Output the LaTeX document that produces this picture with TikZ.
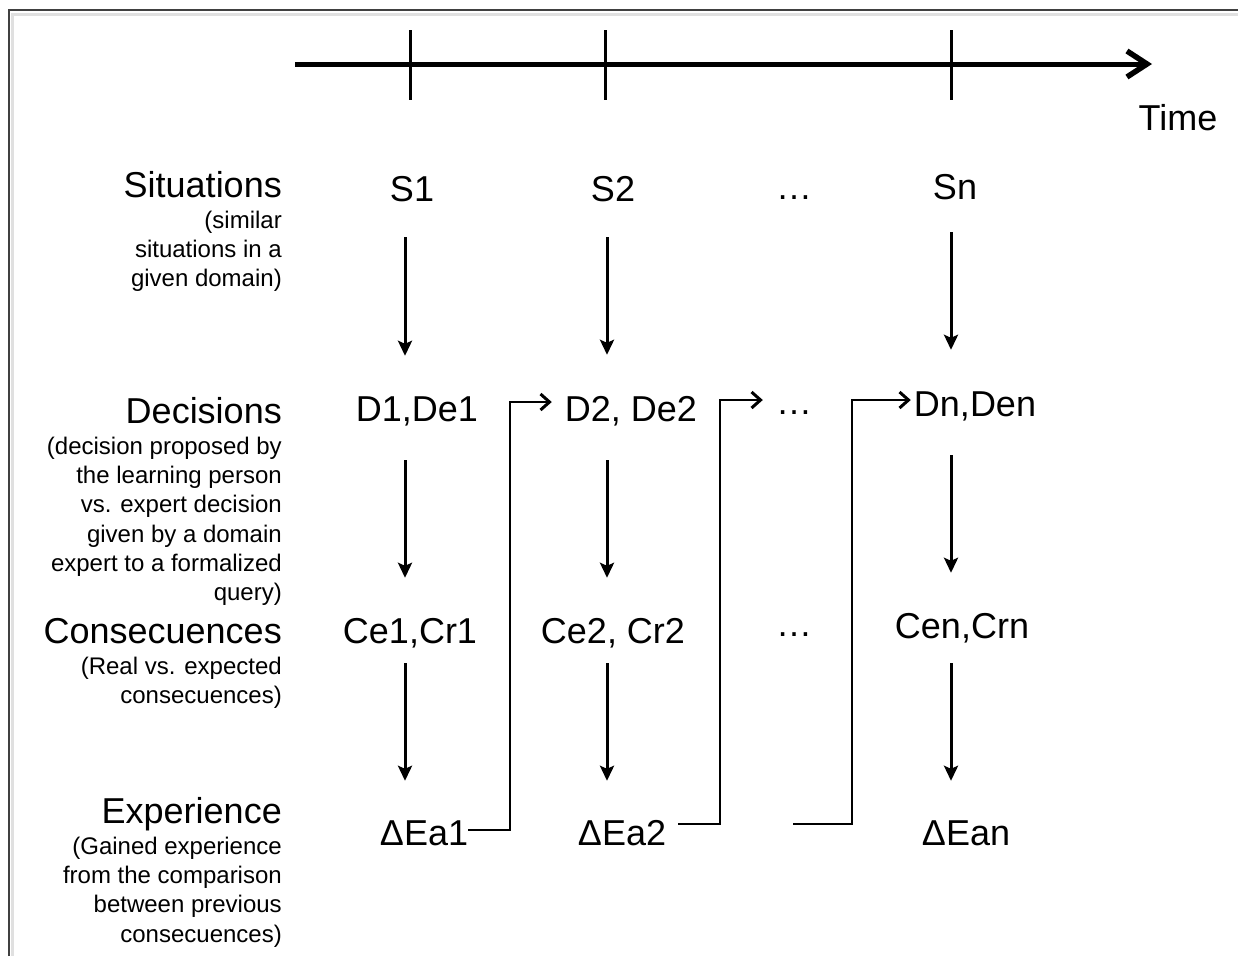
\documentclass[tikz,border=0pt]{standalone}
\usepackage{fontspec}
\setmainfont{Liberation Sans}
\usetikzlibrary{arrows.meta,calc}
\begin{document}
\begin{tikzpicture}[x=1pt,y=-1pt,
  big/.style={font=\fontsize{36}{40}\selectfont, inner sep=0pt},
  col/.style={big, text height=26pt, text depth=8pt, anchor=base},
  title/.style={big, anchor=base east},
  note/.style={font=\fontsize{24}{29.3}\selectfont, inner sep=0pt, align=right, anchor=north east},
  vstep/.style={line width=3pt, -{Stealth[length=15pt,width=14pt,inset=3pt]}},
  fb/.style={line width=1.4pt, -{Straight Barb[length=9pt,width=16pt,line width=3pt]}},
  axis/.style={line width=5pt, -{Straight Barb[length=20pt,width=26pt,line width=5.5pt]}},
  tick/.style={line width=3pt},
  frame/.style={draw=black!75, line width=1.8pt},
  shade/.style={draw=black!12, line width=3pt}
]
\useasboundingbox (0,0) rectangle (1238,956);

% outer frame with a soft shadow
\draw[shade] (12,956) -- (12,14) -- (1238,14);
\draw[frame] (9,956) -- (9,10) -- (1238,10);

% time axis and ticks
\coordinate (t0) at (295,64);
\coordinate (t1) at (1152,64);
\draw[axis] (t0) -- (t1);
\foreach \tx in {410,605,951}
  \draw[tick] (\tx,30) -- (\tx,100);
\node[big, anchor=base] (time) at (1178,130) {Time};

% row titles and their explanations
\node[title] (lsit) at (282,197) {Situations};
\node[note] (nsit) at (282,210.5) {(similar\\situations in a\\given domain)};
\node[title] (ldec) at (282,423) {Decisions};
\node[note] (ndec) at (282,436.5) {(decision proposed by\\the learning person\\vs. expert decision\\given by a domain\\expert to a formalized\\query)};
\node[title] (lcon) at (282,643) {Consecuences};
\node[note] (ncon) at (282,656.5) {(Real vs. expected\\consecuences)};
\node[title] (lexp) at (282,823) {Experience};
\node[note] (nexp) at (282,836.5) {(Gained experience\\from the comparison\\between previous\\consecuences)};

% situations
\node[col] (s1) at (412,201) {S1};
\node[col] (s2) at (613,201) {S2};
\node[col] (sd) at (794,199) {…};
\node[col] (sn) at (955,199) {Sn};
% decisions
\node[col] (d1) at (417,421) {D1,De1};
\node[col] (d2) at (631,421) {D2, De2};
\node[col] (dd) at (794,414) {…};
\node[col] (dn) at (975,416) {Dn,Den};
% consequences
\node[col] (c1) at (410,643) {Ce1,Cr1};
\node[col] (c2) at (613,643) {Ce2, Cr2};
\node[col] (cd) at (794,636) {…};
\node[col] (cn) at (962,638) {Cen,Crn};
% experience
\node[col] (e1) at (424,845) {ΔEa1};
\node[col] (e2) at (622,845) {ΔEa2};
\node[col] (en) at (966,845) {ΔEan};

% columns of the vertical arrows
\coordinate (x1) at (405,0);
\coordinate (x2) at (607,0);
\coordinate (x3) at (951,0);

\draw[vstep, shorten <=28pt, shorten >=39pt] (s1.south -| x1) -- (d1.north -| x1);
\draw[vstep, shorten <=31pt, shorten >=39pt] (d1.south -| x1) -- (c1.north -| x1);
\draw[vstep, shorten <=12pt, shorten >=38pt] (c1.south -| x1) -- (e1.north -| x1);

\draw[vstep, shorten <=28pt, shorten >=40pt] (s2.south -| x2) -- (d2.north -| x2);
\draw[vstep, shorten <=31pt, shorten >=39pt] (d2.south -| x2) -- (c2.north -| x2);
\draw[vstep, shorten <=12pt, shorten >=38pt] (c2.south -| x2) -- (e2.north -| x2);

\draw[vstep, shorten <=25pt, shorten >=40pt] (sn.south -| x3) -- (dn.north -| x3);
\draw[vstep, shorten <=31pt, shorten >=39pt] (dn.south -| x3) -- (cn.north -| x3);
\draw[vstep, shorten <=17pt, shorten >=38pt] (cn.south -| x3) -- (en.north -| x3);

% experience fed back into the next decision
\coordinate (j1) at (510,402);
\coordinate (j2) at (720,400);
\coordinate (j3) at (852,400);
\coordinate (f3) at (793,824);
\draw[fb, shorten >=13pt] ([yshift=6pt]e1.east) -| (j1) -- (d2.west |- j1);
\draw[fb, shorten >=13pt] ([xshift=12pt,yshift=12pt]e2.east) -| (j2) -- (dd.west |- j2);
\draw[fb, shorten >=3pt] (f3) -| (j3) -- (dn.west |- j3);
\end{tikzpicture}
\end{document}
